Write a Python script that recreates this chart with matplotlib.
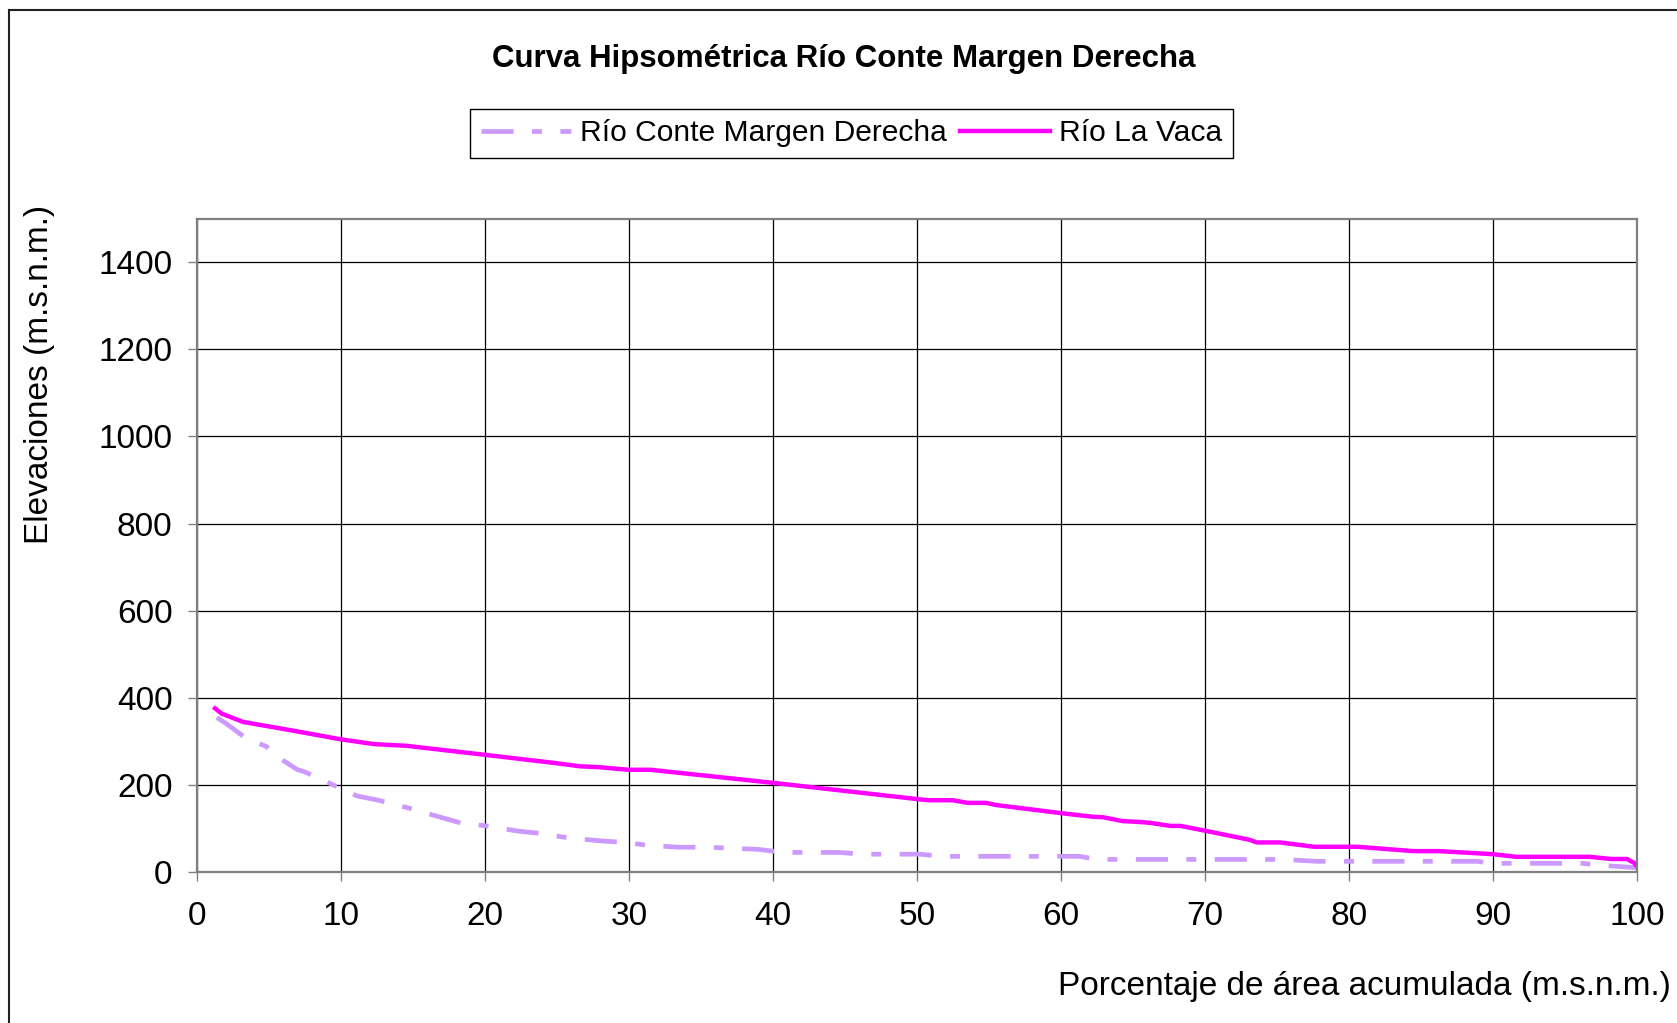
from matplotlib import pyplot as plt
from matplotlib.lines import Line2D

area_conte = [1.38, 1.96, 3.35, 4.85, 5.55, 6.94, 7.5, 8.9, 11.1, 12.6, 14.6, 16.8,
              18.3, 20.1, 22.3, 23.8, 25.7, 27.9, 29.7, 31.2, 33.4, 35.5, 39.0, 40.7,
              44.6, 46.2, 50.2, 51.8, 55.8, 61.3, 62.5, 72.2, 75.5, 77.75, 88.9, 90.0,
              96.2, 97.4, 100.0]
elev_conte = [354, 342, 308, 287, 265, 235, 229, 208, 174, 164, 147, 126,
              112, 105, 93, 88, 78, 71, 67, 61, 56, 56, 51, 44,
              44, 40, 40, 35, 35, 35, 28, 28, 28, 23.6, 23.6, 19,
              19, 14.5, 9]

area_vaca = [1.26, 1.73, 3.2, 6.5, 10.0, 12.3, 14.6, 20.1, 25.0, 26.6, 27.9, 30.0,
             31.5, 40.0, 50.2, 50.8, 52.5, 53.5, 54.8, 55.5, 60.1, 62.2, 62.9, 64.3,
             65.5, 66.2, 67.6, 68.3, 70.0, 73.1, 73.6, 75.2, 77.6, 80.6, 84.5, 86.3,
             90.0, 91.6, 96.7, 98.2, 99.3, 99.8, 100.0]
elev_vaca = [375, 363, 344, 325, 304, 293, 289, 268, 249, 242, 240, 234,
             234, 204, 166, 164, 164, 158, 158, 153, 134, 126, 125, 116,
             114, 112, 105, 105, 94, 73, 67, 67, 57, 57, 47, 47,
             40, 34, 34, 29, 29, 20, 12]

x_ticks = list(range(0, 101, 10))
y_ticks = list(range(0, 1401, 200))

plt.rcParams['font.family'] = ['Liberation Sans', 'DejaVu Sans']


def desenha():
    fig = plt.figure(figsize=(16.77, 10.23), dpi=100)
    ax = fig.add_axes([0.1174, 0.148, 0.8588, 0.638])

    ax.plot(area_conte, elev_conte, color='#cc99ff', lw=3.4,
            dashes=(6.8, 3.9, 2.1, 3.9), label='Río Conte Margen Derecha')
    ax.plot(area_vaca, elev_vaca, color='#ff00ff', lw=3.2, label='Río La Vaca')

    ax.set_xlim(0, 100)
    ax.set_ylim(0, 1500)
    ax.set_xticks(x_ticks)
    ax.set_yticks(y_ticks)
    ax.grid(True, color='black', lw=0.9)
    ax.set_axisbelow(True)
    for s in ax.spines.values():
        s.set_color('#808080')
        s.set_linewidth(1.6)
    ax.tick_params(axis='both', direction='out', length=6.5, width=1,
                   color='#808080', labelsize=24)
    ax.tick_params(axis='x', pad=15)
    ax.tick_params(axis='y', pad=11)

    fig.text(0.5033, 0.9348, 'Curva Hipsométrica Río Conte Margen Derecha',
             ha='center', va='baseline', fontsize=22.5, fontweight='bold')
    fig.text(0.0235, 0.6344, 'Elevaciones (m.s.n.m.)', rotation=90,
             ha='center', va='center', fontsize=24)
    fig.text(0.9964, 0.0274, 'Porcentaje de área acumulada (m.s.n.m.)',
             ha='right', va='baseline', fontsize=24)

    leg = fig.legend(loc='center', bbox_to_anchor=(0.5078, 0.8696), ncol=2,
                     fontsize=21.6, handlelength=3.0, handletextpad=0.3,
                     columnspacing=0.45, borderpad=0.35, fancybox=False,
                     framealpha=1, edgecolor='black')
    leg.get_frame().set_linewidth(1.0)

    # borde del grafico (solo se ve arriba y a la izquierda)
    fig.add_artist(Line2D([0.0054, 0.0054], [0.0, 0.9902], color='#202020', lw=1.5))
    fig.add_artist(Line2D([0.0054, 1.0], [0.9902, 0.9902], color='#202020', lw=1.5))

    fig.savefig('out.png', dpi=100)


if __name__ == '__main__':
    desenha()
